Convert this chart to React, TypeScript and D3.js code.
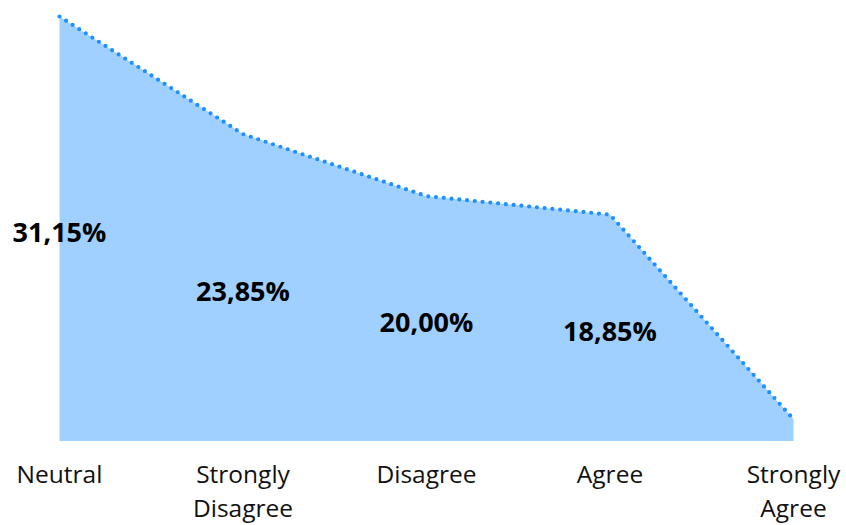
import React, { useEffect, useRef } from "react";
import * as d3 from "d3";

const categories: string[] = ["Neutral", "Strongly Disagree", "Disagree", "Agree", "Strongly Agree"];
const values: number[] = [31.15, 23.85, 20.0, 18.85, 6.15];
const labelValues: (string | null)[] = ["31,15%", "23,85%", "20,00%", "18,85%", null];

const W = 846;
const H = 525;

export default function App() {
  const ref = useRef<SVGSVGElement | null>(null);

  useEffect(() => {
    const svg = d3.select(ref.current);
    svg.selectAll("*").remove();

    const x = d3.scalePoint<string>().domain(categories).range([59.5, 793.5]);
    const y = d3.scaleLinear().domain([4.8, 31.15]).range([441, 16.5]);
    const data = categories.map((c, i) => ({ c, v: values[i], label: labelValues[i] }));
    const base = y(4.8);

    const area = d3
      .area<{ c: string; v: number }>()
      .x((d) => x(d.c)!)
      .y0(base)
      .y1((d) => y(d.v));
    const line = d3
      .line<{ c: string; v: number }>()
      .x((d) => x(d.c)!)
      .y((d) => y(d.v));

    svg.append("path").attr("d", area(data)!).attr("fill", "#a0d0ff");
    svg
      .append("path")
      .attr("d", line(data)!)
      .attr("fill", "none")
      .attr("stroke", "#1e90ff")
      .attr("stroke-width", 4.2)
      .attr("stroke-linecap", "round")
      .attr("stroke-dasharray", "0 7.8");

    // data labels
    svg
      .append("g")
      .selectAll("text")
      .data(data.filter((d) => d.label))
      .join("text")
      .attr("x", (d) => x(d.c)!)
      .attr("y", (d) => (y(d.v) + base) / 2)
      .attr("dy", "0.48em")
      .attr("text-anchor", "middle")
      .attr("font-family", "'Open Sans', sans-serif")
      .attr("font-weight", 700)
      .attr("font-size", 27)
      .attr("fill", "#000")
      .text((d) => d.label!);

    // axis labels with wrapping
    const band = x.step();
    const g = svg.append("g");
    categories.forEach((c) => {
      const t = g
        .append("text")
        .attr("x", x(c)!)
        .attr("y", 483)
        .attr("text-anchor", "middle")
        .attr("font-family", "'Open Sans', sans-serif")
        .attr("font-size", 24.5)
        .attr("fill", "#111");
      const words = c.split(" ");
      let lineWords: string[] = [];
      let ts = t.append("tspan").attr("x", x(c)!).attr("dy", 0);
      words.forEach((w) => {
        lineWords.push(w);
        ts.text(lineWords.join(" "));
        if ((ts.node() as SVGTSpanElement).getComputedTextLength() > band - 40 && lineWords.length > 1) {
          lineWords.pop();
          ts.text(lineWords.join(" "));
          lineWords = [w];
          ts = t.append("tspan").attr("x", x(c)!).attr("dy", 34).text(w);
        }
      });
    });
  }, []);

  return (
    <svg
      ref={ref}
      width={W}
      height={H}
      style={{ position: "absolute", left: 0, top: 0, display: "block", background: "#fff" }}
    />
  );
}
